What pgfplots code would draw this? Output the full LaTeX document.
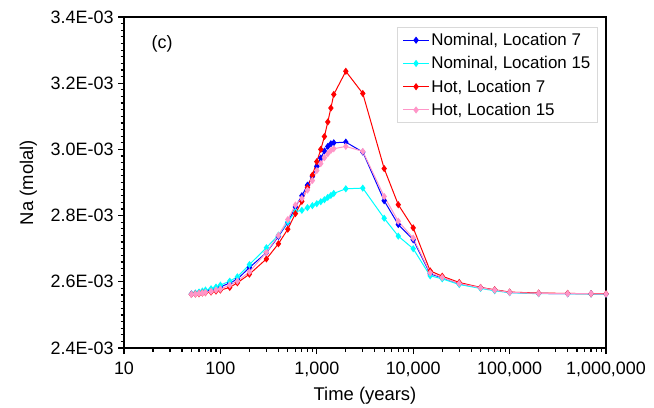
\documentclass[border=0pt]{standalone}
\usepackage{pgfplots}
\pgfplotsset{compat=1.18}
\usepackage{pgfplotstable}
\usepackage{fontspec}
\setmainfont{Liberation Sans}

\definecolor{nomseven}{RGB}{0,0,255}
\definecolor{nomfifteen}{RGB}{0,255,255}
\definecolor{hotseven}{RGB}{255,0,0}
\definecolor{hotfifteen}{RGB}{255,150,200}

\pgfplotstableread{
t nomseven nomfifteen hotseven hotfifteen
50 2.563e-3 2.563e-3 2.562e-3 2.562e-3
55 2.565e-3 2.566e-3 2.563e-3 2.563e-3
60 2.567e-3 2.569e-3 2.564e-3 2.565e-3
65 2.569e-3 2.572e-3 2.566e-3 2.566e-3
70 2.571e-3 2.575e-3 2.567e-3 2.568e-3
80 2.575e-3 2.579e-3 2.569e-3 2.571e-3
90 2.580e-3 2.584e-3 2.572e-3 2.575e-3
100 2.585e-3 2.590e-3 2.575e-3 2.578e-3
125 2.596e-3 2.602e-3 2.583e-3 2.590e-3
150 2.608e-3 2.615e-3 2.597e-3 2.602e-3
200 2.643e-3 2.652e-3 2.623e-3 2.630e-3
300 2.688e-3 2.703e-3 2.669e-3 2.689e-3
400 2.737e-3 2.741e-3 2.715e-3 2.740e-3
500 2.779e-3 2.781e-3 2.759e-3 2.788e-3
600 2.826e-3 2.812e-3 2.806e-3 2.832e-3
700 2.860e-3 2.816e-3 2.843e-3 2.852e-3
800 2.892e-3 2.824e-3 2.885e-3 2.877e-3
900 2.918e-3 2.830e-3 2.922e-3 2.906e-3
1000 2.949e-3 2.836e-3 2.963e-3 2.936e-3
1100 2.974e-3 2.842e-3 3.000e-3 2.957e-3
1200 2.995e-3 2.848e-3 3.039e-3 2.975e-3
1300 3.009e-3 2.855e-3 3.083e-3 2.987e-3
1400 3.017e-3 2.861e-3 3.125e-3 2.997e-3
1500 3.020e-3 2.867e-3 3.166e-3 3.002e-3
2000 3.022e-3 2.881e-3 3.236e-3 3.009e-3
3000 2.992e-3 2.883e-3 3.169e-3 2.994e-3
5000 2.845e-3 2.792e-3 2.942e-3 2.858e-3
7000 2.773e-3 2.738e-3 2.833e-3 2.783e-3
10000 2.727e-3 2.700e-3 2.763e-3 2.732e-3
15000 2.624e-3 2.618e-3 2.633e-3 2.627e-3
20000 2.612e-3 2.609e-3 2.617e-3 2.613e-3
30000 2.594e-3 2.592e-3 2.598e-3 2.595e-3
50000 2.582e-3 2.580e-3 2.583e-3 2.582e-3
70000 2.575e-3 2.573e-3 2.576e-3 2.575e-3
100000 2.568e-3 2.567e-3 2.569e-3 2.568e-3
200000 2.565e-3 2.564e-3 2.566e-3 2.565e-3
400000 2.564e-3 2.564e-3 2.565e-3 2.564e-3
700000 2.564e-3 2.563e-3 2.564e-3 2.564e-3
1000000 2.563e-3 2.563e-3 2.564e-3 2.563e-3
}\datatable

\begin{document}
\begin{tikzpicture}
\begin{axis}[
  name=ax, at={(0,0)}, anchor=south west,
  scale only axis, width=482bp, height=331bp,
  xmode=log, xmin=10, xmax=1000000,
  ymin=0.0024, ymax=0.0034,
  xtick={10,100,1000,10000,100000,1000000},
  xticklabels={10,100,{1,000},{10,000},{100,000},{1,000,000}},
  ytick={0.0024,0.0026,0.0028,0.0030,0.0032,0.0034},
  yticklabels={2.4E-03,2.6E-03,2.8E-03,3.0E-03,3.2E-03,3.4E-03},
  minor y tick num=9,
  xtick pos=bottom, ytick pos=left,
  tick align=outside,
  major tick length=6bp, minor tick length=3.5bp,
  every tick/.style={black, line width=1.2bp},
  axis line style={line width=1.6bp},
  scaled y ticks=false,
  tick label style={font=\fontsize{18}{21}\selectfont},
  x tick label style={yshift=-4bp},
  y tick label style={xshift=-1bp},
  label style={font=\fontsize{18.5}{22}\selectfont},
  xlabel={Time (years)},
  ylabel={Na (molal)},
  xlabel style={yshift=-4bp},
  ylabel style={yshift=7bp},
  legend style={at={(0.983,0.97)}, anchor=north east, draw=black!15, line width=0.8bp,
    font=\fontsize{17}{20}\selectfont, row sep=5.5bp, inner xsep=5bp, inner ysep=4bp},
  legend image code/.code={\draw[mark repeat=2,mark phase=2] plot coordinates {(0cm,0cm) (0.45cm,0cm) (0.9cm,0cm)};},
  legend cell align=left,
  every axis plot/.append style={line width=1bp, mark=diamond*, mark size=2.8bp},
]
\addplot[color=nomseven, mark options={fill=nomseven}] table[x=t, y=nomseven] {\datatable};
\addlegendentry{Nominal, Location 7}
\addplot[color=nomfifteen, mark options={fill=nomfifteen}] table[x=t, y=nomfifteen] {\datatable};
\addlegendentry{Nominal, Location 15}
\addplot[color=hotseven, mark options={fill=hotseven}] table[x=t, y=hotseven] {\datatable};
\addlegendentry{Hot, Location 7}
\addplot[color=hotfifteen, mark options={fill=hotfifteen}] table[x=t, y=hotfifteen] {\datatable};
\addlegendentry{Hot, Location 15}
\node[anchor=west, font=\fontsize{18}{21}\selectfont] at (rel axis cs:0.05,0.92) {(c)};
\end{axis}
\path ([shift={(-124bp,-59bp)}]ax.south west) rectangle ([shift={(48bp,17bp)}]ax.north east);
\end{tikzpicture}
\end{document}
